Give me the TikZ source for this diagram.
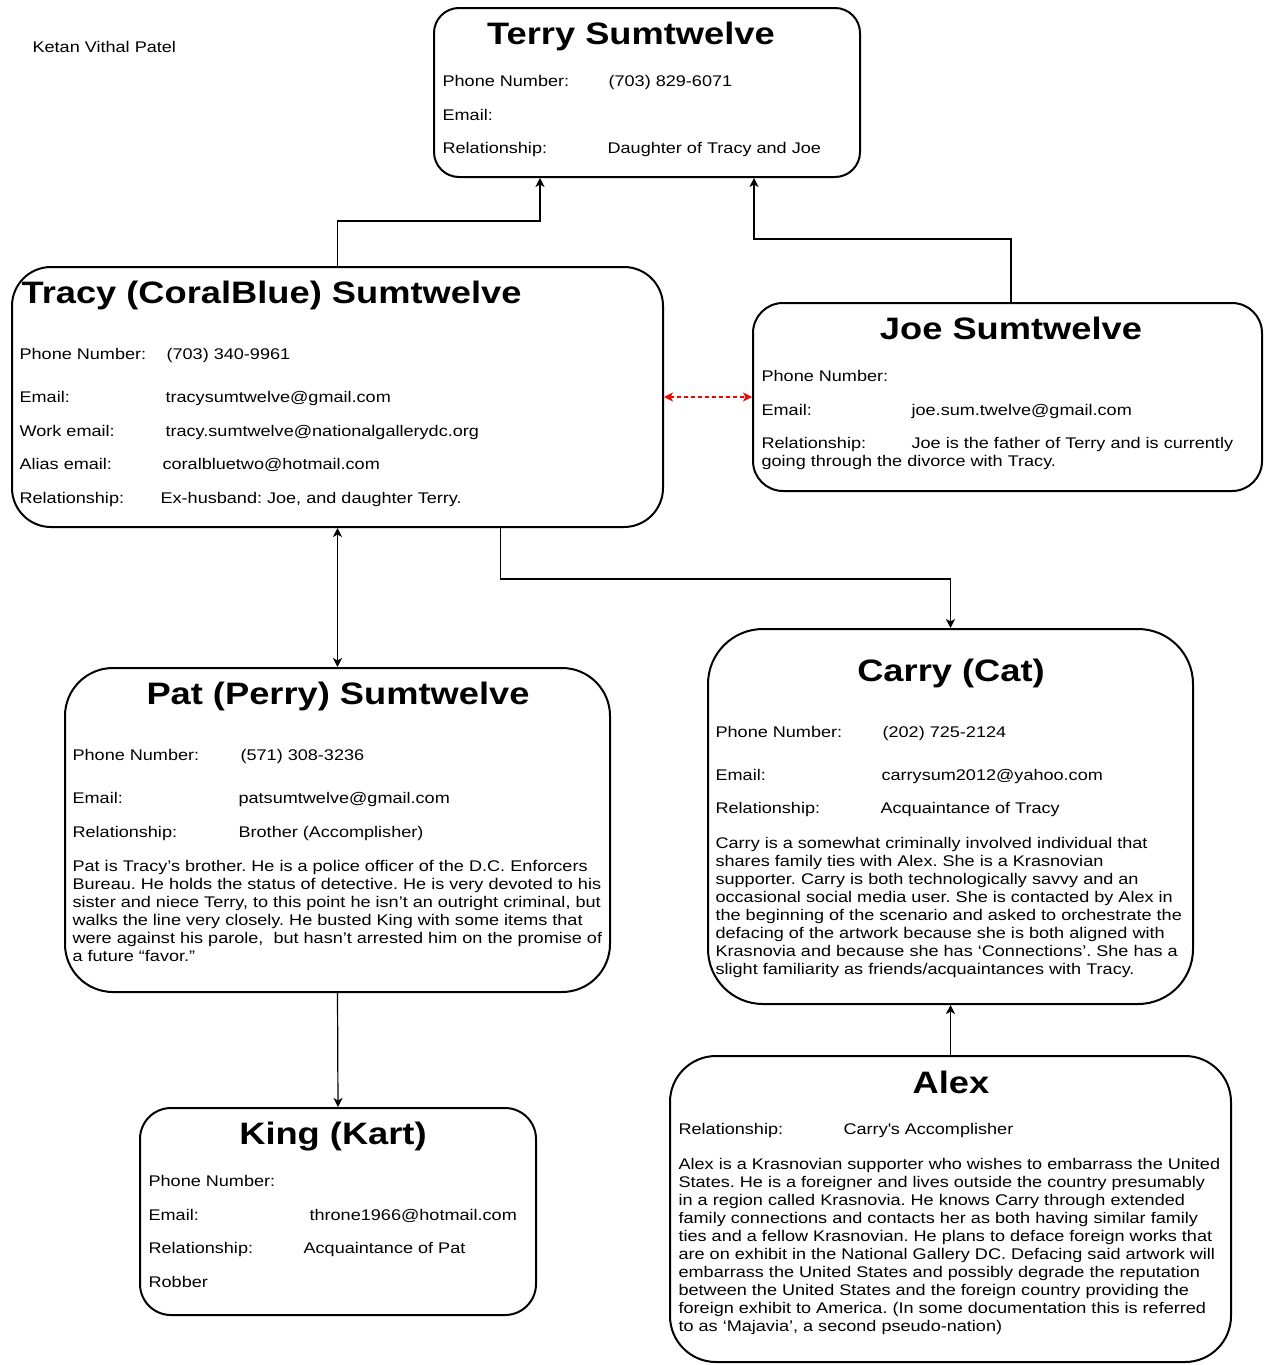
\documentclass[tikz,border=0pt]{standalone}
\usepackage{fontspec}
\setmainfont[FakeStretch=1.17]{Liberation Sans}
\usetikzlibrary{arrows.meta,calc}
\frenchspacing

\begin{document}
\begin{tikzpicture}[x=1pt,y=-1pt,->,>={Stealth[length=9pt,width=9pt,inset=2.5pt]},
  line width=1.2pt,
  card node/.style={rectangle,draw,line width=2pt,inner sep=0pt},
  title text/.style={font=\fontsize{31}{36}\selectfont\bfseries,inner sep=0pt,anchor=base},
  field text/.style={font=\fontsize{15.45}{18}\selectfont,inner sep=0pt,anchor=base west},
  story text/.style={font=\fontsize{15.45}{18}\selectfont,inner sep=0pt,anchor=north west,align=left}]

  \useasboundingbox (0,0) rectangle (1264,1365);

  \node[field text] (Author) at (32,52.5) {Ketan Vithal Patel};

  % boxes
  \node[card node,rounded corners=25pt,minimum width=426pt,minimum height=169pt] (Terry) at (647,92.5) {};
  \node[card node,rounded corners=39pt,minimum width=651pt,minimum height=260pt] (Tracy) at (337.5,397) {};
  \node[card node,rounded corners=30pt,minimum width=509pt,minimum height=188pt] (Joe) at (1007.5,397) {};
  \node[card node,rounded corners=48pt,minimum width=545pt,minimum height=324pt] (Pat) at (337.5,830) {};
  \node[card node,rounded corners=55pt,minimum width=485pt,minimum height=375pt] (Carry) at (950.5,816.5) {};
  \node[card node,rounded corners=31pt,minimum width=396pt,minimum height=207pt] (King) at (338,1211.5) {};
  \node[card node,rounded corners=46pt,minimum width=561pt,minimum height=306pt] (Alex) at (950.5,1209) {};

  % Terry
  \node[title text] (TerryName) at (631,44) {Terry Sumtwelve};
  \node[field text] (TerryPhone) at (442,86.5) {Phone Number:};
  \node[field text] (TerryPhoneV) at (608,86.5) {(703) 829-6071};
  \node[field text] (TerryMail) at (442,120.5) {Email:};
  \node[field text] (TerryRel) at (442,153.5) {Relationship:};
  \node[field text] (TerryRelV) at (607,153.5) {Daughter of Tracy and Joe};

  % Tracy
  \node[title text,anchor=base west] (TracyName) at (21,303) {Tracy (CoralBlue) Sumtwelve};
  \node[field text] (TracyPhone) at (19,359.5) {Phone Number:};
  \node[field text] (TracyPhoneV) at (166,359.5) {(703) 340-9961};
  \node[field text] (TracyMail) at (19,402.5) {Email:};
  \node[field text] (TracyMailV) at (165,402.5) {tracysumtwelve@gmail.com};
  \node[field text] (TracyWork) at (19,436.5) {Work email:};
  \node[field text] (TracyWorkV) at (165,436.5) {tracy.sumtwelve@nationalgallerydc.org};
  \node[field text] (TracyAlias) at (19,469.5) {Alias email:};
  \node[field text] (TracyAliasV) at (162,469.5) {coralbluetwo@hotmail.com};
  \node[field text] (TracyRel) at (19,503.5) {Relationship:};
  \node[field text] (TracyRelV) at (160,503.5) {Ex-husband: Joe, and daughter Terry.};

  % Joe
  \node[title text] (JoeName) at (1011,339) {Joe Sumtwelve};
  \node[field text] (JoePhone) at (761,381.5) {Phone Number:};
  \node[field text] (JoeMail) at (761,415.5) {Email:};
  \node[field text] (JoeMailV) at (911,415.5) {joe.sum.twelve@gmail.com};
  \node[field text] (JoeRel) at (761,448.5) {Relationship:};
  \node[field text] (JoeRelV) at (911,448.5) {Joe is the father of Terry and is currently};
  \node[field text] (JoeRelW) at (761,466.5) {going through the divorce with Tracy.};

  % Pat
  \node[title text] (PatName) at (338,704) {Pat (Perry) Sumtwelve};
  \node[field text] (PatPhone) at (72,760.5) {Phone Number:};
  \node[field text] (PatPhoneV) at (240,760.5) {(571) 308-3236};
  \node[field text] (PatMail) at (72,803.5) {Email:};
  \node[field text] (PatMailV) at (238,803.5) {patsumtwelve@gmail.com};
  \node[field text] (PatRel) at (72,837.5) {Relationship:};
  \node[field text] (PatRelV) at (238,837.5) {Brother (Accomplisher)};
  \node[story text] (PatStory) at (72,859.6) {Pat is Tracy’s brother. He is a police officer of the D.C. Enforcers\\
    Bureau. He holds the status of detective. He is very devoted to his\\
    sister and niece Terry, to this point he isn’t an outright criminal, but\\
    walks the line very closely. He busted King with some items that\\
    were against his parole,\ \ but hasn’t arrested him on the promise of\\
    a future “favor.”};

  % Carry
  \node[title text] (CarryName) at (951,681) {Carry (Cat)};
  \node[field text] (CarryPhone) at (715,737.5) {Phone Number:};
  \node[field text] (CarryPhoneV) at (882,737.5) {(202) 725-2124};
  \node[field text] (CarryMail) at (715,780.5) {Email:};
  \node[field text] (CarryMailV) at (881,780.5) {carrysum2012@yahoo.com};
  \node[field text] (CarryRel) at (715,813.5) {Relationship:};
  \node[field text] (CarryRelV) at (880,813.5) {Acquaintance of Tracy};
  \node[story text] (CarryStory) at (715,836.6) {Carry is a somewhat criminally involved individual that\\
    shares family ties with Alex. She is a Krasnovian\\
    supporter. Carry is both technologically savvy and an\\
    occasional social media user. She is contacted by Alex in\\
    the beginning of the scenario and asked to orchestrate the\\
    defacing of the artwork because she is both aligned with\\
    Krasnovia and because she has ‘Connections’. She has a\\
    slight familiarity as friends/acquaintances with Tracy.};

  % King
  \node[title text] (KingName) at (333,1144) {King (Kart)};
  \node[field text] (KingPhone) at (148,1186.5) {Phone Number:};
  \node[field text] (KingMail) at (148,1220.5) {Email:};
  \node[field text] (KingMailV) at (309,1220.5) {throne1966@hotmail.com};
  \node[field text] (KingRel) at (148,1253.5) {Relationship:};
  \node[field text] (KingRelV) at (303,1253.5) {Acquaintance of Pat};
  \node[field text] (KingNote) at (148,1287.5) {Robber};

  % Alex
  \node[title text] (AlexName) at (951,1093) {Alex};
  \node[field text] (AlexRel) at (678,1134.5) {Relationship:};
  \node[field text] (AlexRelV) at (843,1134.5) {Carry\textquotesingle s Accomplisher};
  \node[story text] (AlexStory) at (678,1157.6) {Alex is a Krasnovian supporter who wishes to embarrass the United\\
    States. He is a foreigner and lives outside the country presumably\\
    in a region called Krasnovia. He knows Carry through extended\\
    family connections and contacts her as both having similar family\\
    ties and a fellow Krasnovian. He plans to deface foreign works that\\
    are on exhibit in the National Gallery DC. Defacing said artwork will\\
    embarrass the United States and possibly degrade the reputation\\
    between the United States and the foreign country providing the\\
    foreign exhibit to America. (In some documentation this is referred\\
    to as ‘Majavia’, a second pseudo-nation)};

  \draw (Tracy.north) -- ++(0,-45) -| ($(Terry.south west)!.25!(Terry.south east)$);
  \draw ([xshift=3.5pt]Joe.north) -- ++(0,-63) -| ($(Terry.south west)!.75!(Terry.south east)$);
  \draw ($(Tracy.south west)!.75!(Tracy.south east)$) -- ++(0,51) -| (Carry.north);
  \path
    (Tracy.east) edge [<->,red,dash pattern=on 4pt off 3pt] (Joe.west)
    (Tracy.south) edge [<->] (Pat.north)
    (Pat.south) edge (King.north)
    (Alex.north) edge (Carry.south)
    ;
\end{tikzpicture}
\end{document}
